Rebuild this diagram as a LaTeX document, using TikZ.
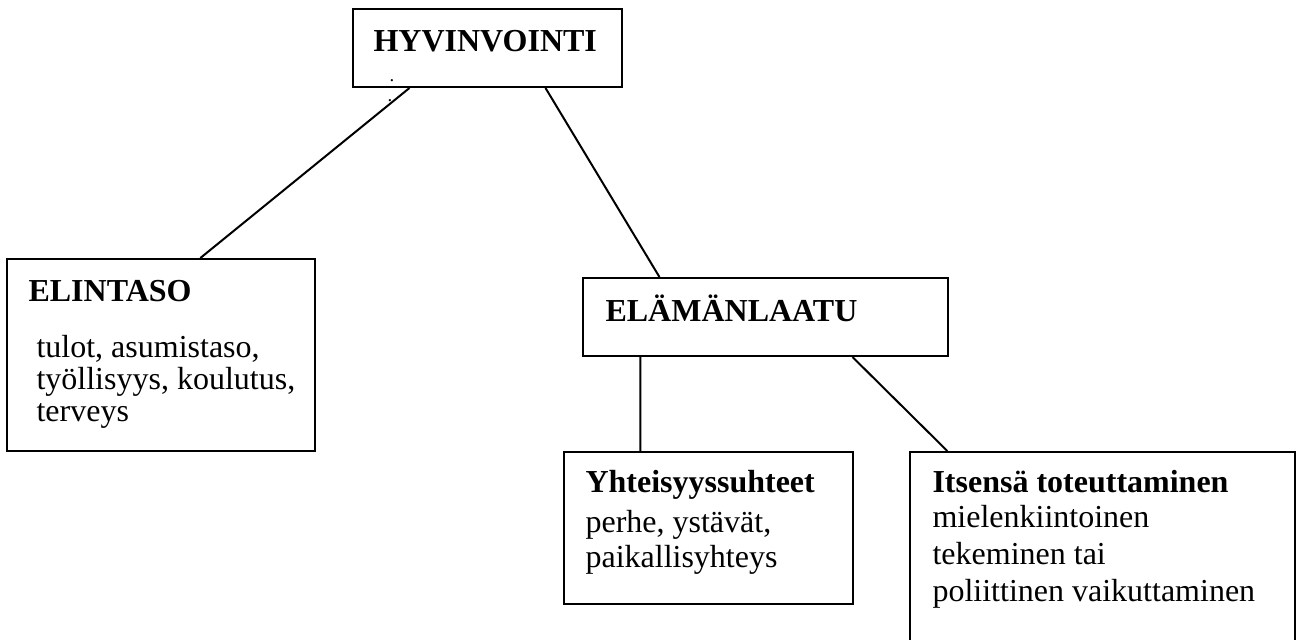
\documentclass[tikz,border=0pt]{standalone}
\usepackage{fontspec}
\setmainfont{Liberation Serif}
\usetikzlibrary{fit,calc}
\tikzset{
	box/.style={draw, line width=0.75pt, rectangle, inner sep=0pt},
	head/.style={font=\fontsize{12pt}{13.8pt}\selectfont\bfseries, inner sep=0pt, anchor=base west},
	body/.style={font=\fontsize{12pt}{13.8pt}\selectfont, inner sep=0pt, align=left, anchor=north west},
	speck/.style={font=\fontsize{7pt}{7pt}\selectfont, inner sep=0pt, anchor=base}
}
\begin{document}
\begin{tikzpicture}[x=0.375pt, y=-0.375pt]
			\useasboundingbox (0,0) rectangle (1301,639);
			\clip (0,0) rectangle (1301,639);
			\node[box, fit={(353,9) (622,87)}] (hyv) {};
			\node[box, fit={(7,259) (315,451)}] (elin) {};
			\node[box, fit={(583,278) (948,356)}] (elam) {};
			\node[box, fit={(564,452) (853,604)}] (yht) {};
			\node[box, fit={(910,452) (1295,670)}] (its) {};
			\node[head] (hyv-t) at (373,52) {HYVINVOINTI};
			\node[speck] (hyv-d1) at (392,81) {.};
			\node[speck] (hyv-d2) at (390,101) {.};
			\node[head] (elin-t) at (28,301) {ELINTASO};
			\node[body, font=\fontsize{12pt}{12pt}\selectfont] (elin-b) at (36,335) {tulot, asumistaso,\\ työllisyys, koulutus,\\ terveys};
			\node[head] (elam-t) at (605,321) {ELÄMÄNLAATU};
			\node[head] (yht-t) at (585,492) {Yhteisyyssuhteet};
			\node[body, font=\fontsize{12pt}{13.2pt}\selectfont] (yht-b) at (585,510) {perhe, ystävät,\\ paikallisyhteys};
			\node[head] (its-t) at (932,492) {Itsensä toteuttaminen};
			\node[body] (its-b) at (932,505) {mielenkiintoinen\\ tekeminen tai\\ poliittinen vaikuttaminen};
			\path[line width=0.75pt]
			($(hyv.south west)!.212!(hyv.south east)$) edge ($(elin.north west)!.627!(elin.north east)$)
			($(hyv.south west)!.714!(hyv.south east)$) edge ($(elam.north west)!.211!(elam.north east)$)
			($(elam.south west)!.159!(elam.south east)$) edge ($(yht.north west)!.266!(yht.north east)$)
			($(elam.south west)!.737!(elam.south east)$) edge ($(its.north west)!.099!(its.north east)$);
		\end{tikzpicture}
\end{document}
